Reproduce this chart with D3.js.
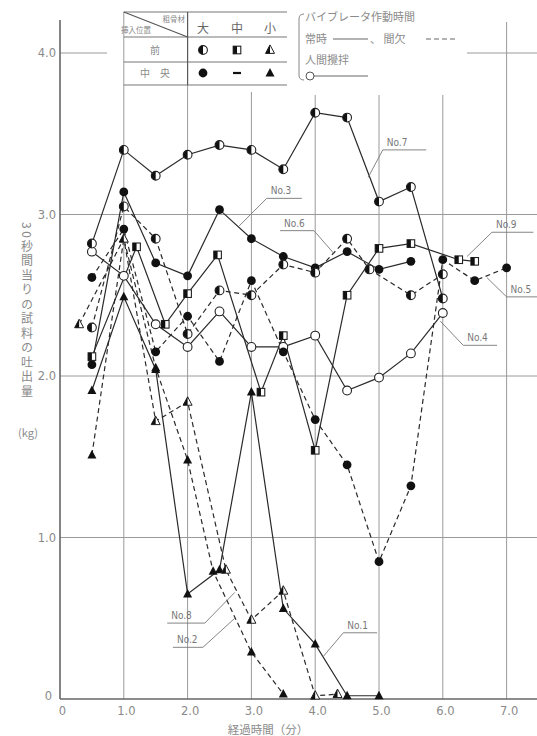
<!DOCTYPE html>
<html>
<head>
<meta charset="utf-8">
<script src="https://cdn.jsdelivr.net/npm/d3@7"></script>
<style>
  html, body { margin: 0; padding: 0; background: #fff; }
  svg { display: block; }
  .jp { font-family: "Noto Sans CJK JP", "Noto Sans", sans-serif; }
  .num { font-family: "DejaVu Sans", "Liberation Sans", sans-serif; }
</style>
</head>
<body>
<script>
// ---- data: elapsed time (min) and discharge per 30 s (kg) ----
const xTicks = [0, 1, 2, 3, 4, 5, 6, 7];
const yTicks = [0, 1, 2, 3, 4];

// vibrator position x aggregate size -> marker; line style = vibrator operation
const no1 = [[0.5,1.91],[1.0,2.49],[1.5,2.04],[2.0,0.65],[2.5,0.80],[3.0,1.90],[3.5,0.56],[4.0,0.34],[4.5,0.02],[5.0,0.02]];
const no2 = [[0.5,1.51],[1.0,2.85],[1.5,2.05],[2.0,1.48],[2.4,0.79],[3.0,0.29],[3.5,0.03]];
const no3 = [[0.5,2.07],[1.0,3.14],[1.5,2.70],[2.0,2.62],[2.5,3.03],[3.0,2.85],[3.5,2.74],[4.0,2.67],[4.5,2.77],[5.0,2.66],[5.5,2.71]];
const no4 = [[0.5,2.77],[1.0,2.62],[1.5,2.32],[2.0,2.18],[2.5,2.40],[3.0,2.18],[3.5,2.18],[4.0,2.25],[4.5,1.91],[5.0,1.99],[5.5,2.14],[6.0,2.39]];
const no5 = [[0.5,2.61],[1.0,2.91],[1.5,2.15],[2.0,2.37],[2.5,2.09],[3.0,2.59],[3.5,2.15],[4.0,1.73],[4.5,1.45],[5.0,0.85],[5.5,1.32],[6.0,2.72],[6.5,2.59],[7.0,2.67]];
const no6 = [[0.5,2.30],[1.0,3.05],[1.5,2.85],[2.0,2.26],[2.5,2.53],[3.0,2.50],[3.5,2.69],[4.0,2.64],[4.5,2.85],[4.85,2.66],[5.5,2.50],[6.0,2.63]];
const no7 = [[0.5,2.82],[1.0,3.40],[1.5,3.24],[2.0,3.37],[2.5,3.43],[3.0,3.40],[3.5,3.28],[4.0,3.63],[4.5,3.60],[5.0,3.08],[5.5,3.17],[6.0,2.48]];
const no8 = [[0.3,2.32],[1.0,2.85],[1.5,1.72],[2.0,1.84],[2.6,0.80],[3.0,0.49],[3.5,0.67],[4.0,0.02],[4.35,0.03]];
const no9 = [[0.5,2.12],[1.2,2.80],[1.65,2.32],[2.0,2.51],[2.47,2.75],[3.15,1.90],[3.5,2.25],[4.0,1.54],[4.5,2.50],[5.0,2.79],[5.5,2.82],[6.25,2.72],[6.5,2.71]];

const seriesList = [
  { name: "No.1", pts: no1, marker: "tri",        dash: false },
  { name: "No.2", pts: no2, marker: "tri",        dash: true  },
  { name: "No.3", pts: no3, marker: "dot",        dash: false },
  { name: "No.4", pts: no4, marker: "ring",       dash: false },
  { name: "No.5", pts: no5, marker: "dot",        dash: true  },
  { name: "No.6", pts: no6, marker: "halfDot",    dash: true  },
  { name: "No.7", pts: no7, marker: "halfDot",    dash: false },
  { name: "No.8", pts: no8, marker: "halfTri",    dash: true  },
  { name: "No.9", pts: no9, marker: "halfSquare", dash: false }
];

// callout labels: target point on the line, elbow, far end of underline (data units)
const callouts = [
  { text: "No.7", target: [4.83,3.23], elbow: [5.06,3.40], end: 5.74 },
  { text: "No.3", target: [2.81,2.93], elbow: [3.24,3.10], end: 3.79 },
  { text: "No.6", target: [4.29,2.76], elbow: [3.98,2.90], end: 3.45 },
  { text: "No.9", target: [6.38,2.74], elbow: [6.77,2.89], end: 7.42 },
  { text: "No.5", target: [6.69,2.61], elbow: [7.00,2.49], end: 7.48 },
  { text: "No.4", target: [5.96,2.34], elbow: [6.32,2.19], end: 6.85 },
  { text: "No.8", target: [2.74,0.66], elbow: [2.27,0.47], end: 1.68 },
  { text: "No.2", target: [2.74,0.50], elbow: [2.24,0.32], end: 1.77 },
  { text: "No.1", target: [4.12,0.26], elbow: [4.44,0.41], end: 4.97 }
];

const W = 537, H = 736;
const svg = d3.select("body").append("svg").attr("width", W).attr("height", H);

const x = d3.scaleLinear().domain([0, 7]).range([60, 506.6]);
const y = d3.scaleLinear().domain([0, 4]).range([699, 53]);

const gridColor = "#9a9a9a";
const inkColor = "#2a2a2a";
const textColor = "#8a8a8a";

// ---- grid ----
const grid = svg.append("g");
[1, 2, 3].forEach(v => {
  grid.append("line").attr("x1", x(0)).attr("x2", W).attr("y1", y(v)).attr("y2", y(v))
    .attr("stroke", gridColor).attr("stroke-width", 1);
});
// the 4.0 line is interrupted by the legend block
grid.append("line").attr("x1", x(0)).attr("x2", 107).attr("y1", y(4)).attr("y2", y(4))
  .attr("stroke", gridColor).attr("stroke-width", 1);
grid.append("line").attr("x1", 467).attr("x2", W).attr("y1", y(4)).attr("y2", y(4))
  .attr("stroke", gridColor).attr("stroke-width", 1);
const vTop = { 1: 12, 2: 12, 3: 92, 4: 95, 5: 95, 6: 95, 7: 22 };
xTicks.filter(t => t > 0).forEach(t => {
  grid.append("line").attr("x1", x(t)).attr("x2", x(t)).attr("y1", vTop[t]).attr("y2", y(0))
    .attr("stroke", gridColor).attr("stroke-width", 1);
});

// ---- axes ----
const xAxis = d3.axisBottom(x).tickValues(xTicks).tickSize(0).tickPadding(8)
  .tickFormat(d => d === 0 ? "0" : d3.format(".1f")(d));
const gx = svg.append("g").attr("transform", `translate(0,${y(0)})`).call(xAxis);
gx.select(".domain").remove();
gx.selectAll("text").attr("class", "num").attr("fill", textColor).attr("font-size", 11.5).attr("dx", 2);

const yAxis = d3.axisLeft(y).tickValues(yTicks).tickSize(0).tickPadding(4)
  .tickFormat(d => d === 0 ? "0" : d3.format(".1f")(d));
const gy = svg.append("g").attr("transform", `translate(${x(0)},0)`).call(yAxis);
gy.select(".domain").remove();
gy.selectAll("text").attr("class", "num").attr("fill", textColor).attr("font-size", 11.5);
gy.selectAll(".tick").filter(d => d === 0).select("text").attr("dx", -4).attr("dy", "0");

svg.append("line").attr("x1", x(0)).attr("x2", x(0)).attr("y1", 20).attr("y2", y(0))
  .attr("stroke", "#666").attr("stroke-width", 1.6);
svg.append("line").attr("x1", x(0)).attr("x2", W).attr("y1", y(0)).attr("y2", y(0))
  .attr("stroke", "#666").attr("stroke-width", 1.6);

// axis titles
svg.append("text").attr("class", "jp").attr("x", 268).attr("y", 734)
  .attr("text-anchor", "middle").attr("font-size", 11.5).attr("fill", textColor)
  .text("経過時間（分）");
svg.append("text").attr("class", "jp").attr("x", 27).attr("y", 222)
  .attr("font-size", 12).attr("fill", textColor)
  .style("writing-mode", "vertical-rl").style("letter-spacing", "2.5px")
  .text("30秒間当りの試料の吐出量");
svg.append("text").attr("class", "jp").attr("x", 28).attr("y", 437)
  .attr("text-anchor", "middle").attr("font-size", 11).attr("fill", textColor)
  .text("(kg)");

// ---- markers ----
function drawMarker(g, type, cx, cy) {
  const r = 4.4;
  if (type === "dot") {
    g.append("circle").attr("cx", cx).attr("cy", cy).attr("r", r).attr("fill", "#111");
  } else if (type === "ring") {
    g.append("circle").attr("cx", cx).attr("cy", cy).attr("r", r)
      .attr("fill", "#fff").attr("stroke", "#222").attr("stroke-width", 1.1);
  } else if (type === "halfDot") {
    g.append("circle").attr("cx", cx).attr("cy", cy).attr("r", r)
      .attr("fill", "#fff").attr("stroke", "#222").attr("stroke-width", 1.1);
    g.append("path").attr("d", `M${cx},${cy - r} A${r},${r} 0 0 0 ${cx},${cy + r} Z`).attr("fill", "#111");
  } else if (type === "halfSquare") {
    const s = 7.6;
    g.append("rect").attr("x", cx - s / 2).attr("y", cy - s / 2).attr("width", s).attr("height", s)
      .attr("fill", "#fff").attr("stroke", "#222").attr("stroke-width", 1.1);
    g.append("rect").attr("x", cx - s / 2).attr("y", cy - s / 2).attr("width", s / 2).attr("height", s)
      .attr("fill", "#111");
  } else if (type === "tri") {
    const h = 8.5, w = 9;
    g.append("path").attr("d", `M${cx},${cy - h * 0.6} L${cx + w / 2},${cy + h * 0.4} L${cx - w / 2},${cy + h * 0.4} Z`)
      .attr("fill", "#111");
  } else if (type === "halfTri") {
    const h = 8.5, w = 9;
    g.append("path").attr("d", `M${cx},${cy - h * 0.6} L${cx + w / 2},${cy + h * 0.4} L${cx - w / 2},${cy + h * 0.4} Z`)
      .attr("fill", "#fff").attr("stroke", "#222").attr("stroke-width", 1);
    g.append("path").attr("d", `M${cx},${cy - h * 0.6} L${cx},${cy + h * 0.4} L${cx - w / 2},${cy + h * 0.4} Z`)
      .attr("fill", "#111");
  }
}

// ---- series ----
const line = d3.line().x(d => x(d[0])).y(d => y(d[1]));
const linesG = svg.append("g");
seriesList.forEach(s => {
  linesG.append("path").datum(s.pts).attr("d", line)
    .attr("fill", "none").attr("stroke", inkColor).attr("stroke-width", 1.2)
    .attr("stroke-dasharray", s.dash ? "5,3.5" : null);
});
const marksG = svg.append("g");
seriesList.forEach(s => {
  s.pts.forEach(p => drawMarker(marksG, s.marker, x(p[0]), y(p[1])));
});

// ---- callouts ----
const callG = svg.append("g");
callouts.forEach(c => {
  const tx = x(c.target[0]), ty = y(c.target[1]);
  const ex = x(c.elbow[0]), ey = y(c.elbow[1]);
  const fx = x(c.end);
  callG.append("path").attr("d", `M${tx},${ty} L${ex},${ey} L${fx},${ey}`)
    .attr("fill", "none").attr("stroke", "#777").attr("stroke-width", 0.9);
  const left = Math.min(ex, fx);
  callG.append("text").attr("class", "num").attr("x", left + 4).attr("y", ey - 4)
    .attr("font-size", 10).attr("fill", "#777").attr("font-stretch", "condensed").text(c.text);
});

// ---- legend table ----
const leg = svg.append("g");
const tblL = x(1), tblM = x(2), tblR = 287;
[12, 37, 62, 85].forEach(yy => {
  leg.append("line").attr("x1", tblL).attr("x2", tblR).attr("y1", yy).attr("y2", yy)
    .attr("stroke", "#777").attr("stroke-width", 1.1);
});
leg.append("line").attr("x1", tblM).attr("x2", tblM).attr("y1", 12).attr("y2", 85)
  .attr("stroke", "#555").attr("stroke-width", 1.1);
leg.append("line").attr("x1", tblL).attr("x2", tblM).attr("y1", 12).attr("y2", 37)
  .attr("stroke", "#555").attr("stroke-width", 1.1);
leg.append("text").attr("class", "jp").attr("x", 185).attr("y", 22).attr("text-anchor", "end")
  .attr("font-size", 7.5).attr("fill", textColor).text("粗骨材");
leg.append("text").attr("class", "jp").attr("x", 121).attr("y", 33)
  .attr("font-size", 7.5).attr("fill", textColor).text("挿入位置");
const colX = [203, 237, 270];
["大", "中", "小"].forEach((t, i) => {
  leg.append("text").attr("class", "jp").attr("x", colX[i]).attr("y", 33).attr("text-anchor", "middle")
    .attr("font-size", 12).attr("fill", "#666").text(t);
});
leg.append("text").attr("class", "jp").attr("x", 155).attr("y", 54).attr("text-anchor", "middle")
  .attr("font-size", 10).attr("fill", textColor).text("前");
leg.append("text").attr("class", "jp").attr("x", 155).attr("y", 77).attr("text-anchor", "middle")
  .attr("font-size", 10).attr("fill", textColor).text("中　央");
drawMarker(leg, "halfDot", colX[0], 50);
drawMarker(leg, "halfSquare", colX[1], 50);
drawMarker(leg, "halfTri", colX[2], 50);
drawMarker(leg, "dot", colX[0], 73);
leg.append("line").attr("x1", colX[1] - 4).attr("x2", colX[1] + 4).attr("y1", 73).attr("y2", 73)
  .attr("stroke", "#111").attr("stroke-width", 2.2);
drawMarker(leg, "tri", colX[2], 73);

// line-style legend
const ls = svg.append("g");
ls.append("path").attr("d", "M304,14 Q299,14 299,19 L299,75 Q299,80 304,80")
  .attr("fill", "none").attr("stroke", "#888").attr("stroke-width", 1);
ls.append("text").attr("class", "jp").attr("x", 305).attr("y", 21).attr("font-size", 11)
  .attr("fill", textColor).text("バイブレータ作動時間");
ls.append("text").attr("class", "jp").attr("x", 305).attr("y", 43).attr("font-size", 11)
  .attr("fill", textColor).text("常時");
ls.append("line").attr("x1", 333).attr("x2", 368).attr("y1", 39).attr("y2", 39)
  .attr("stroke", "#666").attr("stroke-width", 1);
ls.append("text").attr("class", "jp").attr("x", 370).attr("y", 43).attr("font-size", 11)
  .attr("fill", textColor).text("、 間欠");
ls.append("line").attr("x1", 426).attr("x2", 458).attr("y1", 39).attr("y2", 39)
  .attr("stroke", "#666").attr("stroke-width", 1).attr("stroke-dasharray", "5,3");
ls.append("text").attr("class", "jp").attr("x", 305).attr("y", 64).attr("font-size", 11)
  .attr("fill", textColor).text("人間攪拌");
ls.append("line").attr("x1", 314).attr("x2", 368).attr("y1", 76).attr("y2", 76)
  .attr("stroke", "#666").attr("stroke-width", 1);
ls.append("circle").attr("cx", 310).attr("cy", 76).attr("r", 4)
  .attr("fill", "#fff").attr("stroke", "#555").attr("stroke-width", 1);
</script>
</body>
</html>
